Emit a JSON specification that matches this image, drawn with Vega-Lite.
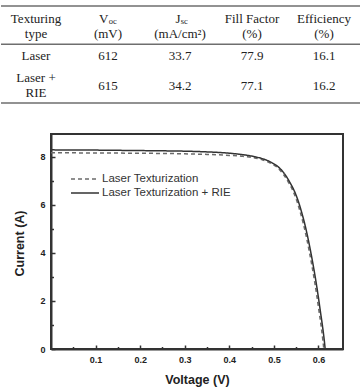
{
  "$schema": "https://vega.github.io/schema/vega-lite/v6.json",
  "padding": 0,
  "background": "white",
  "spacing": 28,
  "resolve": {"legend": {"color": "independent", "strokeDash": "independent"}},
  "config": {
    "view": {"stroke": null},
    "font": "Liberation Sans",
    "legend": {
      "orient": "none",
      "legendX": 26,
      "legendY": 37,
      "title": null,
      "labelFont": "Liberation Sans",
      "labelFontSize": 11.5,
      "labelColor": "#333333",
      "symbolType": "M-2,0H2",
      "symbolSize": 196,
      "symbolStrokeWidth": 1.5,
      "labelOffset": 9,
      "rowPadding": 0
    }
  },
  "datasets": {
    "cells": [
      {"col": "type", "line": 1, "part": "cell", "text": "Texturing"},
      {"col": "type", "line": 2, "part": "cell", "text": "type"},
      {"col": "voc", "line": 1, "part": "base", "text": "V"},
      {"col": "voc", "line": 1, "part": "sub", "text": "oc"},
      {"col": "voc", "line": 2, "part": "cell", "text": "(mV)"},
      {"col": "jsc", "line": 1, "part": "base", "text": "J"},
      {"col": "jsc", "line": 1, "part": "sub", "text": "sc"},
      {"col": "jsc", "line": 2, "part": "cell", "text": "(mA/cm²)"},
      {"col": "ff", "line": 1, "part": "cell", "text": "Fill Factor"},
      {"col": "ff", "line": 2, "part": "cell", "text": "(%)"},
      {"col": "eff", "line": 1, "part": "cell", "text": "Efficiency"},
      {"col": "eff", "line": 2, "part": "cell", "text": "(%)"},
      {"col": "type", "line": 3.49, "part": "cell", "text": "Laser"},
      {"col": "voc", "line": 3.49, "part": "cell", "text": "612"},
      {"col": "jsc", "line": 3.49, "part": "cell", "text": "33.7"},
      {"col": "ff", "line": 3.49, "part": "cell", "text": "77.9"},
      {"col": "eff", "line": 3.49, "part": "cell", "text": "16.1"},
      {"col": "type", "line": 4.95, "part": "cell", "text": "Laser +"},
      {"col": "type", "line": 5.95, "part": "cell", "text": "RIE"},
      {"col": "voc", "line": 5.45, "part": "cell", "text": "615"},
      {"col": "jsc", "line": 5.45, "part": "cell", "text": "34.2"},
      {"col": "ff", "line": 5.45, "part": "cell", "text": "77.1"},
      {"col": "eff", "line": 5.45, "part": "cell", "text": "16.2"}
    ],
    "rules": [{"line": 0.153}, {"line": 2.707}, {"line": 6.62}],
    "iv": [
      {"series": "Laser Texturization", "V": 0, "I": 8.17},
      {"series": "Laser Texturization", "V": 0.05, "I": 8.165},
      {"series": "Laser Texturization", "V": 0.1, "I": 8.16},
      {"series": "Laser Texturization", "V": 0.15, "I": 8.155},
      {"series": "Laser Texturization", "V": 0.2, "I": 8.15},
      {"series": "Laser Texturization", "V": 0.25, "I": 8.14},
      {"series": "Laser Texturization", "V": 0.3, "I": 8.125},
      {"series": "Laser Texturization", "V": 0.35, "I": 8.1},
      {"series": "Laser Texturization", "V": 0.4, "I": 8.06},
      {"series": "Laser Texturization", "V": 0.43, "I": 8.02},
      {"series": "Laser Texturization", "V": 0.455, "I": 7.96},
      {"series": "Laser Texturization", "V": 0.475, "I": 7.87},
      {"series": "Laser Texturization", "V": 0.492, "I": 7.74},
      {"series": "Laser Texturization", "V": 0.508, "I": 7.55},
      {"series": "Laser Texturization", "V": 0.521, "I": 7.28},
      {"series": "Laser Texturization", "V": 0.533, "I": 6.93},
      {"series": "Laser Texturization", "V": 0.543, "I": 6.57},
      {"series": "Laser Texturization", "V": 0.551, "I": 6.19},
      {"series": "Laser Texturization", "V": 0.558, "I": 5.77},
      {"series": "Laser Texturization", "V": 0.566, "I": 5.22},
      {"series": "Laser Texturization", "V": 0.573, "I": 4.65},
      {"series": "Laser Texturization", "V": 0.579, "I": 4.1},
      {"series": "Laser Texturization", "V": 0.585, "I": 3.5},
      {"series": "Laser Texturization", "V": 0.591, "I": 2.85},
      {"series": "Laser Texturization", "V": 0.596, "I": 2.25},
      {"series": "Laser Texturization", "V": 0.601, "I": 1.6},
      {"series": "Laser Texturization", "V": 0.606, "I": 0.95},
      {"series": "Laser Texturization", "V": 0.61, "I": 0.34},
      {"series": "Laser Texturization", "V": 0.612, "I": 0},
      {"series": "Laser Texturization + RIE", "V": 0, "I": 8.29},
      {"series": "Laser Texturization + RIE", "V": 0.05, "I": 8.285},
      {"series": "Laser Texturization + RIE", "V": 0.1, "I": 8.28},
      {"series": "Laser Texturization + RIE", "V": 0.15, "I": 8.27},
      {"series": "Laser Texturization + RIE", "V": 0.2, "I": 8.26},
      {"series": "Laser Texturization + RIE", "V": 0.25, "I": 8.25},
      {"series": "Laser Texturization + RIE", "V": 0.3, "I": 8.235},
      {"series": "Laser Texturization + RIE", "V": 0.35, "I": 8.205},
      {"series": "Laser Texturization + RIE", "V": 0.4, "I": 8.15},
      {"series": "Laser Texturization + RIE", "V": 0.43, "I": 8.09},
      {"series": "Laser Texturization + RIE", "V": 0.458, "I": 8.0},
      {"series": "Laser Texturization + RIE", "V": 0.478, "I": 7.9},
      {"series": "Laser Texturization + RIE", "V": 0.495, "I": 7.76},
      {"series": "Laser Texturization + RIE", "V": 0.511, "I": 7.56},
      {"series": "Laser Texturization + RIE", "V": 0.524, "I": 7.29},
      {"series": "Laser Texturization + RIE", "V": 0.536, "I": 6.93},
      {"series": "Laser Texturization + RIE", "V": 0.546, "I": 6.57},
      {"series": "Laser Texturization + RIE", "V": 0.554, "I": 6.19},
      {"series": "Laser Texturization + RIE", "V": 0.561, "I": 5.77},
      {"series": "Laser Texturization + RIE", "V": 0.569, "I": 5.22},
      {"series": "Laser Texturization + RIE", "V": 0.576, "I": 4.65},
      {"series": "Laser Texturization + RIE", "V": 0.582, "I": 4.1},
      {"series": "Laser Texturization + RIE", "V": 0.588, "I": 3.5},
      {"series": "Laser Texturization + RIE", "V": 0.594, "I": 2.85},
      {"series": "Laser Texturization + RIE", "V": 0.599, "I": 2.25},
      {"series": "Laser Texturization + RIE", "V": 0.604, "I": 1.6},
      {"series": "Laser Texturization + RIE", "V": 0.609, "I": 0.95},
      {"series": "Laser Texturization + RIE", "V": 0.613, "I": 0.36},
      {"series": "Laser Texturization + RIE", "V": 0.615, "I": 0}
    ]
  },
  "vconcat": [
    {
      "width": 292,
      "height": 105,
      "data": {"name": "cells"},
      "resolve": {"scale": {"x": "independent"}},
      "encoding": {
        "y": {
          "field": "line",
          "type": "quantitative",
          "scale": {"domain": [-0.25, 6.75], "reverse": true, "nice": false, "zero": false},
          "axis": null
        }
      },
      "layer": [
        {
          "data": {"name": "rules"},
          "mark": {"type": "rule", "color": "#6e6e6e", "strokeWidth": 1.5},
          "encoding": {
            "x": {"datum": 0, "type": "quantitative", "scale": {"domain": [0, 1], "range": [-50, 310], "nice": false, "zero": false}, "axis": null},
            "x2": {"datum": 1}
          }
        },
        {
          "transform": [{"filter": "datum.part == 'cell'"}],
          "mark": {"type": "text", "font": "Liberation Serif", "fontSize": 13, "color": "#222222", "baseline": "middle", "align": "center"},
          "encoding": {
            "x": {"field": "col", "type": "ordinal", "scale": {"type": "point", "domain": ["type", "voc", "jsc", "ff", "eff"], "range": [-15, 273], "padding": 0}, "axis": null},
            "text": {"field": "text"}
          }
        },
        {
          "transform": [{"filter": "datum.part == 'base'"}],
          "mark": {"type": "text", "font": "Liberation Serif", "fontSize": 13, "color": "#222222", "baseline": "middle", "align": "right", "dx": 0.5},
          "encoding": {
            "x": {"field": "col", "type": "ordinal", "scale": {"type": "point", "domain": ["type", "voc", "jsc", "ff", "eff"], "range": [-15, 273], "padding": 0}, "axis": null},
            "text": {"field": "text"}
          }
        },
        {
          "transform": [{"filter": "datum.part == 'sub'"}],
          "mark": {"type": "text", "font": "Liberation Serif", "fontSize": 8.5, "color": "#222222", "baseline": "middle", "align": "left", "dx": 0.8, "dy": 2.5},
          "encoding": {
            "x": {"field": "col", "type": "ordinal", "scale": {"type": "point", "domain": ["type", "voc", "jsc", "ff", "eff"], "range": [-15, 273], "padding": 0}, "axis": null},
            "text": {"field": "text"}
          }
        }
      ]
    },
    {
      "width": 292,
      "height": 215,
      "view": {"stroke": "#333333", "strokeWidth": 2},
      "data": {"name": "iv"},
      "mark": {"type": "line", "strokeWidth": 1.5, "interpolate": "monotone"},
      "encoding": {
        "x": {
          "field": "V",
          "type": "quantitative",
          "scale": {"domain": [0, 0.655], "nice": false, "zero": false},
          "axis": {
            "values": [0.05, 0.1, 0.15, 0.2, 0.25, 0.3, 0.35, 0.4, 0.45, 0.5, 0.55, 0.6],
            "format": ".1f",
            "labelExpr": "round(datum.value * 20) % 2 == 0 ? datum.label : ''",
            "tickSize": {"condition": {"test": "round(datum.value * 20) % 2 == 0", "value": -4}, "value": -2.5},
            "labelPadding": 10.5,
            "labelOverlap": false,
            "labelFlush": false,
            "labelFontSize": 9,
            "labelFontWeight": "bold",
            "labelColor": "#222222",
            "domainColor": "#333333",
            "domainWidth": 2,
            "tickColor": "#333333",
            "tickWidth": 1.5,
            "grid": false,
            "title": "Voltage (V)",
            "titleFontSize": 12.5,
            "titleFontWeight": "bold",
            "titleColor": "#222222",
            "titlePadding": 7
          }
        },
        "y": {
          "field": "I",
          "type": "quantitative",
          "scale": {"domain": [0, 8.95], "nice": false, "zero": false},
          "axis": {
            "values": [0, 1, 2, 3, 4, 5, 6, 7, 8],
            "labelExpr": "datum.value % 2 == 0 ? datum.label : ''",
            "tickSize": {"condition": {"test": "datum.value % 2 == 0", "value": -4}, "value": -2.5},
            "labelPadding": 10,
            "labelOverlap": false,
            "labelFontSize": 9,
            "labelFontWeight": "bold",
            "labelColor": "#222222",
            "domainColor": "#333333",
            "domainWidth": 2,
            "tickColor": "#333333",
            "tickWidth": 1.5,
            "grid": false,
            "minExtent": 50,
            "title": "Current (A)",
            "titleX": -32,
            "titleY": 109,
            "titleAlign": "center",
            "titleBaseline": "middle",
            "titleFontSize": 12.5,
            "titleFontWeight": "bold",
            "titleColor": "#222222"
          }
        },
        "color": {
          "field": "series",
          "type": "nominal",
          "scale": {"range": ["#6b6b6b", "#333333"]},
          "legend": {"title": null}
        },
        "strokeDash": {
          "field": "series",
          "type": "nominal",
          "scale": {"range": [[4, 3], [1, 0]]},
          "legend": {"title": null}
        }
      }
    }
  ]
}
